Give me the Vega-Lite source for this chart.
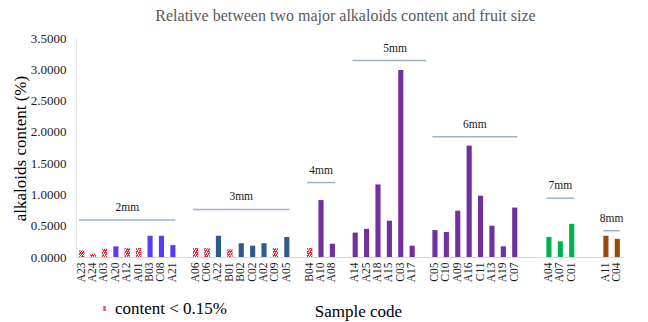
{
  "$schema": "https://vega.github.io/schema/vega-lite/v6.json",
  "autosize": {"type": "none"},
  "padding": {"left": 76, "top": 38, "right": 25, "bottom": 65},
  "width": 547,
  "height": 219,
  "background": "white",
  "title": {
    "text": "Relative between two major alkaloids content and fruit size",
    "font": "Liberation Serif",
    "fontSize": 16,
    "fontWeight": "normal",
    "color": "#595959",
    "anchor": "middle",
    "offset": 8,
    "dx": -4
  },
  "config": {
    "view": {"stroke": null},
    "font": "Liberation Serif",
    "axis": {"labelFont": "Liberation Serif", "titleFont": "Liberation Serif"},
    "legend": {"labelFont": "Liberation Serif", "titleFont": "Liberation Serif"},
    "text": {"font": "Liberation Serif"}
  },
  "datasets": {
    "bars": [
      {"code": "A23", "value": 0.10, "group": "2mm", "low": true},
      {"code": "A24", "value": 0.05, "group": "2mm", "low": true},
      {"code": "A03", "value": 0.13, "group": "2mm", "low": true},
      {"code": "A20", "value": 0.17, "group": "2mm", "low": false},
      {"code": "A12", "value": 0.14, "group": "2mm", "low": true},
      {"code": "A01", "value": 0.14, "group": "2mm", "low": true},
      {"code": "B03", "value": 0.34, "group": "2mm", "low": false},
      {"code": "C08", "value": 0.34, "group": "2mm", "low": false},
      {"code": "A21", "value": 0.19, "group": "2mm", "low": false},
      {"code": "A06", "value": 0.14, "group": "3mm", "low": true},
      {"code": "C06", "value": 0.14, "group": "3mm", "low": true},
      {"code": "A22", "value": 0.34, "group": "3mm", "low": false},
      {"code": "B01", "value": 0.12, "group": "3mm", "low": true},
      {"code": "B02", "value": 0.22, "group": "3mm", "low": false},
      {"code": "C02", "value": 0.18, "group": "3mm", "low": false},
      {"code": "A02", "value": 0.22, "group": "3mm", "low": false},
      {"code": "C09", "value": 0.14, "group": "3mm", "low": true},
      {"code": "A05", "value": 0.32, "group": "3mm", "low": false},
      {"code": "B04", "value": 0.14, "group": "4mm", "low": true},
      {"code": "A10", "value": 0.91, "group": "4mm", "low": false},
      {"code": "A08", "value": 0.21, "group": "4mm", "low": false},
      {"code": "A14", "value": 0.39, "group": "5mm", "low": false},
      {"code": "A25", "value": 0.45, "group": "5mm", "low": false},
      {"code": "A18", "value": 1.16, "group": "5mm", "low": false},
      {"code": "A15", "value": 0.58, "group": "5mm", "low": false},
      {"code": "C03", "value": 2.99, "group": "5mm", "low": false},
      {"code": "A17", "value": 0.18, "group": "5mm", "low": false},
      {"code": "C05", "value": 0.43, "group": "6mm", "low": false},
      {"code": "C10", "value": 0.40, "group": "6mm", "low": false},
      {"code": "A09", "value": 0.74, "group": "6mm", "low": false},
      {"code": "A16", "value": 1.78, "group": "6mm", "low": false},
      {"code": "C11", "value": 0.98, "group": "6mm", "low": false},
      {"code": "A13", "value": 0.50, "group": "6mm", "low": false},
      {"code": "A19", "value": 0.17, "group": "6mm", "low": false},
      {"code": "C07", "value": 0.79, "group": "6mm", "low": false},
      {"code": "A04", "value": 0.32, "group": "7mm", "low": false},
      {"code": "A07", "value": 0.25, "group": "7mm", "low": false},
      {"code": "C01", "value": 0.53, "group": "7mm", "low": false},
      {"code": "A11", "value": 0.34, "group": "8mm", "low": false},
      {"code": "C04", "value": 0.29, "group": "8mm", "low": false}
    ],
    "groups": [
      {"group": "2mm", "start": "A23", "end": "A21", "mid": "A12", "value": 0.59, "even": false},
      {"group": "3mm", "start": "A06", "end": "A05", "mid": "B02", "value": 0.76, "even": false},
      {"group": "4mm", "start": "B04", "end": "A08", "mid": "A10", "value": 1.19, "even": false},
      {"group": "5mm", "start": "A14", "end": "g4", "mid": "A15", "value": 3.14, "even": true},
      {"group": "6mm", "start": "C05", "end": "C07", "mid": "A16", "value": 1.92, "even": true},
      {"group": "7mm", "start": "A04", "end": "C01", "mid": "A07", "value": 0.94, "even": false},
      {"group": "8mm", "start": "A11", "end": "C04", "mid": "A11", "value": 0.42, "even": true}
    ]
  },
  "encoding": {
    "x": {
      "field": "code",
      "type": "nominal",
      "scale": {
        "domain": ["A23","A24","A03","A20","A12","A01","B03","C08","A21","g1",
                   "A06","C06","A22","B01","B02","C02","A02","C09","A05","g2",
                   "B04","A10","A08","g3",
                   "A14","A25","A18","A15","C03","A17","g4",
                   "C05","C10","A09","A16","C11","A13","A19","C07","g5","g6",
                   "A04","A07","C01","g7","g8",
                   "A11","C04"],
        "paddingInner": 0.55,
        "paddingOuter": 0.275
      },
      "axis": {
        "labelExpr": "test(/^g[0-9]/, datum.label) ? '' : datum.label",
        "labelFont": "Liberation Serif",
        "labelAngle": 270,
        "labelAlign": "right",
        "labelBaseline": "middle",
        "labelFontSize": 11.5,
        "labelColor": "#1a1a1a",
        "labelPadding": 5,
        "labelOverlap": false,
        "ticks": false,
        "domainColor": "#d9d9d9",
        "domainWidth": 1,
        "grid": false,
        "title": "Sample code",
        "titleFont": "Liberation Serif",
        "titleFontSize": 17,
        "titleFontWeight": "normal",
        "titleColor": "#000000",
        "titleX": 282,
        "titleY": 59,
        "titleAlign": "center",
        "titleBaseline": "alphabetic",
        "titleAnchor": null
      }
    },
    "y": {
      "field": "value",
      "type": "quantitative",
      "scale": {"domain": [0, 3.5], "nice": false},
      "axis": {
        "values": [0, 0.5, 1, 1.5, 2, 2.5, 3, 3.5],
        "format": ".4f",
        "labelFont": "Liberation Serif",
        "labelFontSize": 13,
        "labelColor": "#222222",
        "labelPadding": 10,
        "labelOverlap": false,
        "labelFlush": false,
        "ticks": false,
        "grid": false,
        "domainColor": "#e3e3e3",
        "title": "alkaloids  content  (%)",
        "titleFont": "Liberation Serif",
        "titleFontSize": 17,
        "titleFontWeight": "normal",
        "titleColor": "#000000",
        "titleAngle": 270,
        "titleX": -56,
        "titleY": 110,
        "titleAlign": "center",
        "titleBaseline": "middle",
        "titleAnchor": null
      }
    }
  },
  "layer": [
    {
      "data": {"name": "bars"},
      "transform": [{"filter": "!datum.low"}],
      "mark": {"type": "bar"},
      "encoding": {
        "color": {
          "field": "group",
          "type": "nominal",
          "scale": {
            "domain": ["2mm","3mm","4mm","5mm","6mm","7mm","8mm"],
            "range": ["#5b3cf2","#2f5a8e","#7030a0","#7030a0","#7030a0","#00b050","#9c4a0c"]
          },
          "legend": null
        }
      }
    },
    {
      "data": {"name": "bars"},
      "transform": [{"filter": "datum.low"}],
      "mark": {"type": "bar"},
      "encoding": {
        "fill": {
          "datum": "content < 0.15%",
          "type": "nominal",
          "scale": {"domain": ["content < 0.15%"], "range": ["#ea5060"]},
          "legend": {
            "title": null,
            "orient": "none",
            "legendX": 20,
            "legendY": 262,
            "symbolType": "M-0.25,-0.5H0.25V0.5H-0.25Z",
            "symbolSize": 100,
            "symbolStrokeWidth": 0,
            "labelFontSize": 17,
            "labelFont": "Liberation Serif",
            "labelColor": "#000000",
            "labelOffset": 2,
            "labelLimit": 300
          }
        }
      }
    },
    {
      "data": {"name": "bars"},
      "transform": [{"filter": "datum.low"}],
      "mark": {
        "type": "bar",
        "fill": {
          "gradient": "linear", "x1": 0, "y1": 0, "x2": 1, "y2": 1,
          "stops": [
            {"offset": 0, "color": "#e8283c"}, {"offset": 0.14, "color": "#e8283c"},
            {"offset": 0.14, "color": "#ffffff"}, {"offset": 0.22, "color": "#ffffff"},
            {"offset": 0.22, "color": "#e8283c"}, {"offset": 0.36, "color": "#e8283c"},
            {"offset": 0.36, "color": "#ffffff"}, {"offset": 0.44, "color": "#ffffff"},
            {"offset": 0.44, "color": "#e8283c"}, {"offset": 0.58, "color": "#e8283c"},
            {"offset": 0.58, "color": "#ffffff"}, {"offset": 0.66, "color": "#ffffff"},
            {"offset": 0.66, "color": "#e8283c"}, {"offset": 0.80, "color": "#e8283c"},
            {"offset": 0.80, "color": "#ffffff"}, {"offset": 0.88, "color": "#ffffff"},
            {"offset": 0.88, "color": "#e8283c"}, {"offset": 1, "color": "#e8283c"}
          ]
        }
      },
      "encoding": {}
    },
    {
      "data": {"name": "groups"},
      "mark": {"type": "rule", "color": "#9db3c8", "strokeWidth": 1.5},
      "encoding": {
        "x": {"field": "start", "type": "nominal", "bandPosition": 0},
        "x2": {"field": "end", "bandPosition": 1}
      }
    },
    {
      "data": {"name": "groups"},
      "transform": [{"filter": "!datum.even"}],
      "mark": {"type": "text", "font": "Liberation Serif", "fontSize": 11.5, "color": "#1a1a1a", "baseline": "middle", "dy": -12},
      "encoding": {
        "x": {"field": "mid", "type": "nominal", "bandPosition": 0.5},
        "text": {"field": "group"}
      }
    },
    {
      "data": {"name": "groups"},
      "transform": [{"filter": "datum.even"}],
      "mark": {"type": "text", "font": "Liberation Serif", "fontSize": 11.5, "color": "#1a1a1a", "baseline": "middle", "dy": -12},
      "encoding": {
        "x": {"field": "mid", "type": "nominal", "bandPosition": 1.6},
        "text": {"field": "group"}
      }
    }
  ],
  "resolve": {"scale": {"color": "independent", "fill": "independent"}}
}
